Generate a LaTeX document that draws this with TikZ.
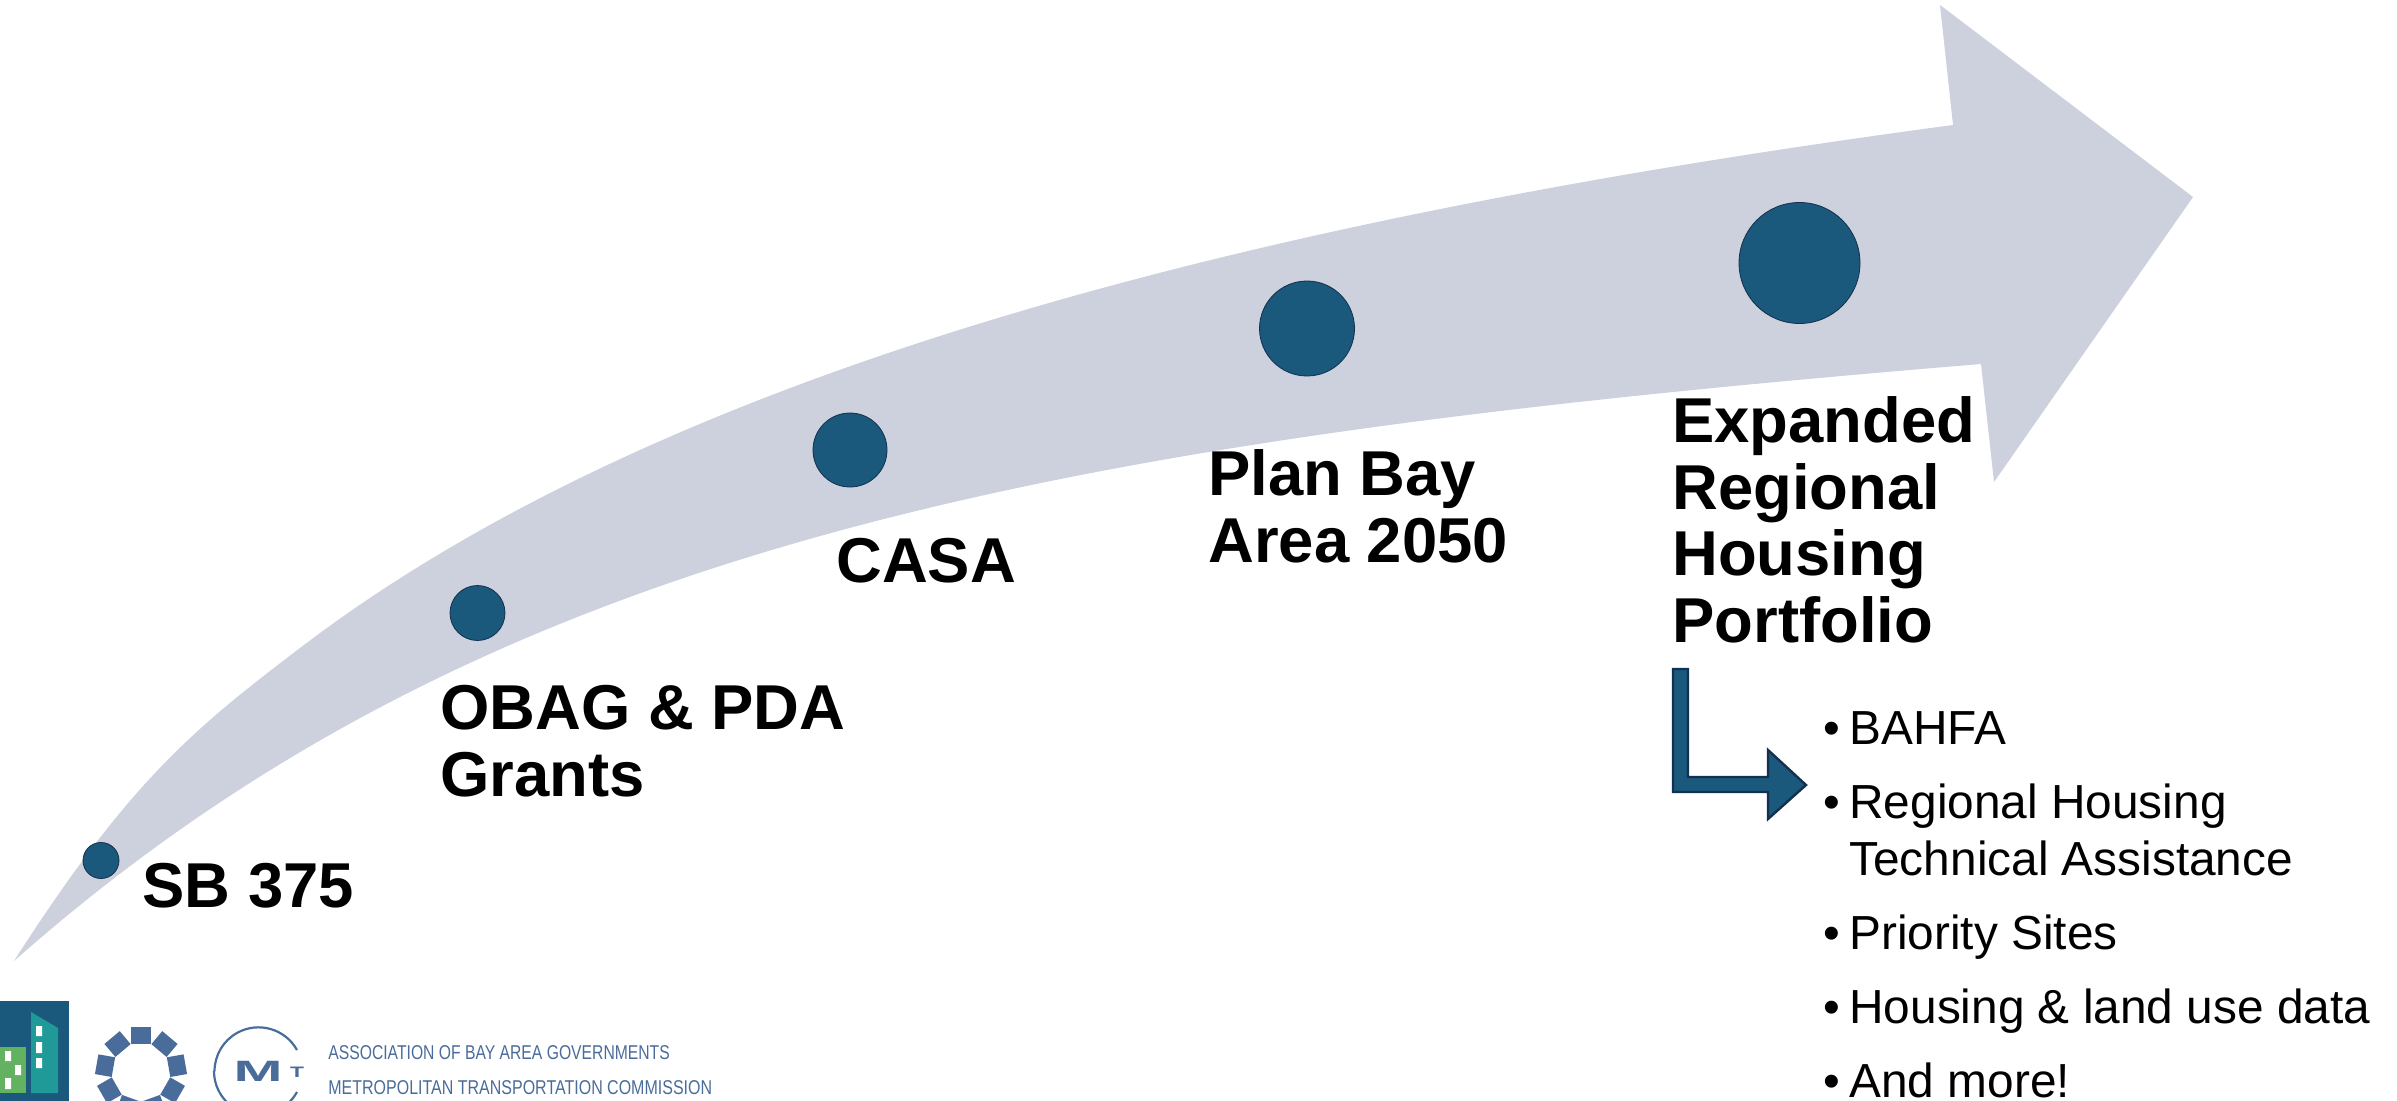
\documentclass[tikz,border=0pt]{standalone}
\usepackage{fontspec}
\setmainfont{Liberation Sans}
\definecolor{band}{HTML}{CDD0DD}
\definecolor{dotblue}{HTML}{1A587C}
\definecolor{dotline}{HTML}{14304F}
\definecolor{logoblue}{HTML}{4A6C9B}
\definecolor{tealb}{HTML}{1F9A98}
\definecolor{greenb}{HTML}{62B262}
\tikzset{
  x=0.5pt,y=-0.5pt,
  dotnode/.style={circle,fill=dotblue,draw=dotline,line width=0.4pt,inner sep=0pt,minimum size=#1},
  headlabel/.style={anchor=base west,inner sep=0pt,align=left,font=\fontsize{31.7}{33.2}\selectfont\bfseries},
  itemlabel/.style={anchor=base west,inner sep=0pt,font=\fontsize{23.9}{28.5}\selectfont},
  bulletlabel/.style={anchor=base,inner sep=0pt,font=\fontsize{23.9}{28.5}\selectfont},
  logotext/.style={anchor=base west,inner sep=0pt,text=logoblue,font=\fontsize{10}{12}\selectfont},
  gearsq/.style={fill=logoblue,draw=none},
}
\begin{document}
\begin{tikzpicture}
\useasboundingbox (0,0) rectangle (2397,1101);
\clip (0,0) rectangle (2397,1101);
% sweeping arrow
\fill[band] (14,961) .. controls (130,780) and (195,728) .. (300,648)
  .. controls (680,358) and (1295,213) .. (1953,125)
  -- (1940,5) -- (2193,197) -- (1994,482) -- (1981,364)
  .. controls (1060,440) and (490,540) .. (14,961) -- cycle;
% dots
\node[dotnode=36*0.5pt] (d1) at (101,860.5) {};
\node[dotnode=55*0.5pt] (d2) at (477.5,613) {};
\node[dotnode=74*0.5pt] (d3) at (850,450) {};
\node[dotnode=95*0.5pt] (d4) at (1307,328.5) {};
\node[dotnode=121*0.5pt] (d5) at (1799.5,263) {};
% labels (a multi-line node's base is its last line)
\node[headlabel] (l1) at (142,907) {SB 375};
\node[headlabel] (l2) at (440,796) {OBAG \& PDA\\Grants};
\node[headlabel] (l3) at (836,582) {CASA};
\node[headlabel] (l4) at (1208,562) {Plan Bay\\Area 2050};
\node[headlabel] (l5) at (1672,642) {Expanded\\Regional\\Housing\\Portfolio};
% elbow arrow
\draw[fill=dotblue,draw=dotline,line width=1.2pt,line join=miter]
  (1673,669) -- (1688,669) -- (1688,777) -- (1768,777) -- (1768,750) -- (1806,785)
  -- (1768,819) -- (1768,792) -- (1673,792) -- cycle;
% list
\foreach \yy/\nm/\txt in {744/a/BAHFA,818/b/Regional Housing,875/c/Technical Assistance,949/d/Priority Sites,1023/e/Housing \& land use data,1097/f/And more!}{
  \node[itemlabel] (i\nm) at (1849,\yy) {\txt};
}
\foreach \yy/\nm in {744/a,818/b,949/d,1023/e,1097/f}{
  \node[bulletlabel] (b\nm) at (1832,\yy) {•};
}
% logo 1
\fill[dotblue] (0,1001) rectangle (69,1101);
\fill[tealb] (31,1012) -- (58,1028) -- (58,1093) -- (31,1093) -- cycle;
\fill[greenb] (0,1047) rectangle (26,1093);
\fill[white] (36,1026) rectangle (42,1036) (36,1042) rectangle (42,1053) (36,1058) rectangle (42,1068);
\fill[white] (5,1051) rectangle (11,1061) (15,1065) rectangle (21,1075) (5,1078) rectangle (11,1089);
% logo 2 (gear)
\foreach \a in {90,50,10,-30,-70,-110,-150,170,130}{
  \fill[gearsq,shift={(141,1072)},rotate=-\a+90] (-10,-45) rectangle (10,-28);
}
% logo 3
\draw[logoblue,line width=1.1pt] (297,1050) arc[start angle=-29,delta angle=-151,radius=44];
\draw[logoblue,line width=1.1pt] (214,1071) arc[start angle=180,end angle=100,radius=44];
\draw[logoblue,line width=1.1pt] (297,1092) arc[start angle=29,end angle=50,radius=44];
\node[inner sep=0pt,anchor=base,text=logoblue,font=\fontsize{14.7}{16}\selectfont\bfseries] (mm) at (258,1081) {\scalebox{2}[1]{M}};
\node[inner sep=0pt,anchor=base,text=logoblue,font=\fontsize{7.6}{9}\selectfont\bfseries] (tt) at (297,1077) {\scalebox{1.5}[1]{T}};
\node[logotext] (o1) at (328,1059) {\scalebox{.785}[1]{ASSOCIATION OF BAY AREA GOVERNMENTS}};
\node[logotext] (o2) at (328,1094) {\scalebox{.80}[1]{METROPOLITAN TRANSPORTATION COMMISSION}};
\end{tikzpicture}
\end{document}
